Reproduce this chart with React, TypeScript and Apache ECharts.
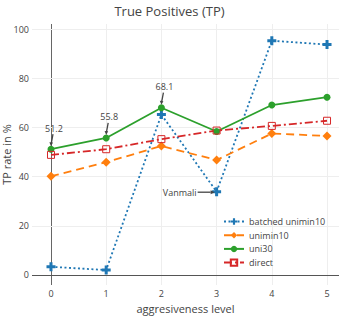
import React, { useEffect, useRef } from "react";
import * as echarts from "echarts";

const levels = [0, 1, 2, 3, 4, 5];
const batchedUnimin10 = [3.3, 2.0, 65.3, 33.9, 95.4, 93.8];
const unimin10 = [40.2, 45.9, 52.5, 46.8, 57.6, 56.6];
const uni30 = [51.2, 55.8, 68.1, 58.4, 69.2, 72.4];
const direct = [48.9, 51.2, 55.3, 58.8, 60.7, 62.8];
const yTicks = [0, 20, 40, 60, 80, 100];
const seriesNames = ["batched unimin10", "unimin10", "uni30", "direct"];
const annotations = [
  { x: 0, y: 51.2, text: "51.2", side: "up" },
  { x: 1, y: 55.8, text: "55.8", side: "up" },
  { x: 2, y: 68.1, text: "68.1", side: "up" },
  { x: 3, y: 33.9, text: "Vanmali", side: "left" },
];

const FONT = "'Open Sans', 'DejaVu Sans', sans-serif";
const TXT = "#444";

export default function App() {
  const ref = useRef<HTMLDivElement>(null);
  useEffect(() => {
    if (!ref.current) return;
    const chart = echarts.init(ref.current, undefined, { renderer: "svg" });
    const pairs = (ys: number[]) => levels.map((x, i) => [x, ys[i]]);
    const gridLines: any[] = [];
    levels.forEach((v) =>
      gridLines.push({ xAxis: v, lineStyle: { color: v === 0 ? "#666" : "#eee", width: 1, type: "solid" } })
    );
    yTicks.forEach((v) =>
      gridLines.push({ yAxis: v, lineStyle: { color: v === 0 ? "#555" : "#eee", width: 1, type: "solid" } })
    );
    const option: any = {
      animation: false,
      textStyle: { fontFamily: FONT },
      title: {
        text: "True Positives (TP)",
        left: "center",
        top: 4,
        padding: 0,
        textStyle: { fontSize: 13, fontWeight: "normal", color: TXT, fontFamily: FONT },
      },
      legend: {
        orient: "vertical",
        left: 223,
        top: 217,
        padding: 0,
        itemGap: 4.7,
        itemWidth: 20,
        itemHeight: 8,
        data: seriesNames,
        textStyle: { fontSize: 9, color: TXT, fontFamily: FONT },
      },
      grid: { left: 32, right: 0, top: 24, bottom: 33, containLabel: false, outerBoundsMode: "none" },
      xAxis: {
        type: "value",
        min: -0.344,
        max: 5.217,
        name: "aggresiveness level",
        nameLocation: "middle",
        nameGap: 18,
        nameTextStyle: { fontSize: 11, color: TXT, fontFamily: FONT },
        axisLine: { show: false, onZero: false },
        axisTick: { show: false },
        splitLine: { show: false },
        axisLabel: { customValues: levels, margin: 4, fontSize: 9, color: TXT, fontFamily: FONT },
      },
      yAxis: {
        type: "value",
        min: -4.1,
        max: 102.2,
        name: "TP rate in %",
        nameLocation: "middle",
        nameGap: 20,
        nameMoveOverlap: false,
        nameRotate: 90,
        nameTextStyle: { fontSize: 11, color: TXT, fontFamily: FONT },
        axisLine: { show: false, onZero: false },
        axisTick: { show: false },
        splitLine: { show: false },
        axisLabel: { customValues: yTicks, margin: 3, fontSize: 9, color: TXT, fontFamily: FONT },
      },
      series: [
        {
          name: "__grid",
          type: "line",
          data: [],
          silent: true,
          markLine: {
            z: 0,
            silent: true,
            symbol: ["none", "none"],
            label: { show: false },
            data: gridLines,
          },
        },
        {
          name: seriesNames[0],
          type: "line",
          data: pairs(batchedUnimin10),
          symbol: "path://M4,0H8V4H12V8H8V12H4V8H0V4H4Z",
          symbolSize: 9,
          itemStyle: { color: "#1f77b4" },
          lineStyle: { color: "#1f77b4", width: 1.8, type: [2, 2.5] },
          z: 3,
        },
        {
          name: seriesNames[1],
          type: "line",
          data: pairs(unimin10),
          symbol: "diamond",
          symbolSize: 9,
          itemStyle: { color: "#ff7f0e" },
          lineStyle: { color: "#ff7f0e", width: 1.8, type: [8, 5] },
          z: 3,
        },
        {
          name: seriesNames[2],
          type: "line",
          data: pairs(uni30),
          symbol: "circle",
          symbolSize: 7,
          itemStyle: { color: "#2ca02c" },
          lineStyle: { color: "#2ca02c", width: 1.8 },
          z: 3,
        },
        {
          name: seriesNames[3],
          type: "line",
          data: pairs(direct),
          symbol: "rect",
          symbolSize: 7,
          itemStyle: { color: "rgba(255,255,255,0)", borderColor: "#d62728", borderWidth: 1 },
          lineStyle: { color: "#d62728", width: 1.8, type: [8, 3, 2, 3] },
          z: 3,
        },
      ],
    };
    chart.setOption(option);

    const graphics: any[] = [];
    annotations.forEach((a) => {
      const p = chart.convertToPixel({ gridIndex: 0 }, [a.x, a.y]) as number[];
      const [px, py] = p;
      if (a.side === "up") {
        graphics.push({
          type: "text",
          z: 10,
          style: {
            text: a.text,
            x: px + 3,
            y: py - 21,
            align: "center",
            verticalAlign: "middle",
            textAlign: "center",
            textVerticalAlign: "middle",
            fill: TXT,
            font: `9px ${FONT}`,
          },
        });
        const x1 = px + 2, y1 = py - 15, x2 = px, y2 = py - 3;
        graphics.push({
          type: "line",
          z: 10,
          shape: { x1, y1, x2: x2 + 0.3, y2: y2 - 3 },
          style: { stroke: TXT, lineWidth: 1.3 },
        });
        graphics.push({
          type: "polygon",
          z: 10,
          shape: { points: [[x2, y2], [x2 - 1.6, y2 - 4], [x2 + 2.0, y2 - 3.6]] },
          style: { fill: TXT },
        });
      } else {
        graphics.push({
          type: "text",
          z: 10,
          style: {
            text: a.text,
            x: px - 20,
            y: py + 1,
            align: "right",
            verticalAlign: "middle",
            textAlign: "right",
            textVerticalAlign: "middle",
            fill: TXT,
            font: `9px ${FONT}`,
          },
        });
        graphics.push({
          type: "line",
          z: 10,
          shape: { x1: px - 19, y1: py + 0.5, x2: px - 6, y2: py + 0.5 },
          style: { stroke: TXT, lineWidth: 1.3 },
        });
        graphics.push({
          type: "polygon",
          z: 10,
          shape: { points: [[px - 2, py + 0.5], [px - 6, py - 1.5], [px - 6, py + 2.5]] },
          style: { fill: TXT },
        });
      }
    });
    chart.setOption({ graphic: graphics });

    return () => chart.dispose();
  }, []);
  return (
    <div
      ref={ref}
      style={{ position: "fixed", left: 0, top: 0, width: 339, height: 318, background: "#fff" }}
    />
  );
}
